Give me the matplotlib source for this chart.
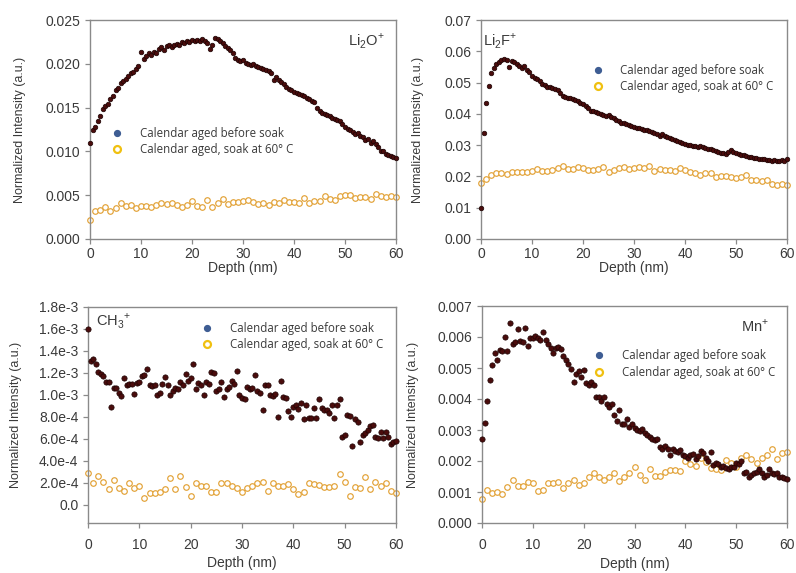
import numpy as np
import matplotlib
matplotlib.use("Agg")
import matplotlib.pyplot as plt
from matplotlib.lines import Line2D
from matplotlib.ticker import FixedLocator, FixedFormatter

# ---------------- data ----------------
depth_fine = np.arange(0, 60.01, 0.5)      # dense series (before soak)
depth_coarse = np.arange(0, 60.01, 1.0)    # soaked series

li2o_before = [
    0.0110, 0.0124, 0.0128, 0.0135, 0.0140, 0.0148, 0.0152, 0.0154, 0.0160, 0.0163,
    0.0170, 0.0172, 0.0178, 0.0180, 0.0183, 0.0186, 0.0189, 0.0191, 0.0194, 0.0198,
    0.0213, 0.0206, 0.0209, 0.0212, 0.0210, 0.0214, 0.0212, 0.0217, 0.0219, 0.0216,
    0.0220, 0.0221, 0.0219, 0.0222, 0.0223, 0.0221, 0.0225, 0.0224, 0.0226, 0.0225,
    0.0227, 0.0226, 0.0227, 0.0226, 0.0228, 0.0226, 0.0224, 0.0217, 0.0222, 0.0229,
    0.0228, 0.0226, 0.0224, 0.0220, 0.0218, 0.0216, 0.0212, 0.0207, 0.0204, 0.0203,
    0.0204, 0.0201, 0.0200, 0.0199, 0.0200, 0.0197, 0.0196, 0.0195, 0.0194, 0.0193,
    0.0192, 0.0189, 0.0182, 0.0185, 0.0182, 0.0179, 0.0177, 0.0174, 0.0171, 0.0170,
    0.0168, 0.0167, 0.0166, 0.0164, 0.0163, 0.0161, 0.0160, 0.0158, 0.0156, 0.0150,
    0.0146, 0.0144, 0.0143, 0.0141, 0.0140, 0.0138, 0.0137, 0.0136, 0.0135, 0.0131,
    0.0128, 0.0126, 0.0124, 0.0122, 0.0120, 0.0121, 0.0118, 0.0116, 0.0113, 0.0114,
    0.0110, 0.0112, 0.0108, 0.0105, 0.0101, 0.0100, 0.0097, 0.0096, 0.0095, 0.0094,
    0.0093,
]
li2o_soak = [
    0.0022, 0.0032, 0.0033, 0.0036, 0.0032, 0.0035, 0.0041, 0.0038, 0.0039, 0.0035,
    0.0038, 0.0038, 0.0037, 0.0039, 0.0041, 0.0040, 0.0041, 0.0039, 0.0037, 0.0039,
    0.0043, 0.0038, 0.0037, 0.0044, 0.0036, 0.0041, 0.0046, 0.0040, 0.0042, 0.0042,
    0.0043, 0.0044, 0.0042, 0.0040, 0.0041, 0.0039, 0.0042, 0.0041, 0.0044, 0.0042,
    0.0042, 0.0041, 0.0047, 0.0041, 0.0043, 0.0043, 0.0049, 0.0046, 0.0044, 0.0049,
    0.0050, 0.0050, 0.0047, 0.0048, 0.0048, 0.0046, 0.0051, 0.0049, 0.0048, 0.0049,
    0.0048,
]

li2f_before = [
    0.0098, 0.0340, 0.0435, 0.0488, 0.0530, 0.0545, 0.0560, 0.0567, 0.0572, 0.0575,
    0.0573, 0.0550, 0.0568, 0.0565, 0.0560, 0.0554, 0.0548, 0.0553, 0.0540, 0.0535,
    0.0522, 0.0515, 0.0510, 0.0504, 0.0497, 0.0492, 0.0487, 0.0485, 0.0482, 0.0480,
    0.0477, 0.0468, 0.0458, 0.0455, 0.0452, 0.0450, 0.0446, 0.0443, 0.0440, 0.0434,
    0.0430, 0.0425, 0.0418, 0.0410, 0.0408, 0.0406, 0.0403, 0.0400, 0.0396, 0.0394,
    0.0396, 0.0390, 0.0386, 0.0380, 0.0376, 0.0372, 0.0370, 0.0366, 0.0363, 0.0360,
    0.0357, 0.0356, 0.0354, 0.0351, 0.0350, 0.0347, 0.0345, 0.0342, 0.0338, 0.0335,
    0.0330, 0.0335, 0.0329, 0.0326, 0.0322, 0.0320, 0.0316, 0.0314, 0.0311, 0.0307,
    0.0303, 0.0301, 0.0300, 0.0297, 0.0296, 0.0294, 0.0297, 0.0293, 0.0290, 0.0288,
    0.0287, 0.0283, 0.0280, 0.0277, 0.0276, 0.0274, 0.0272, 0.0278, 0.0283, 0.0278,
    0.0274, 0.0271, 0.0270, 0.0267, 0.0265, 0.0263, 0.0262, 0.0259, 0.0258, 0.0257,
    0.0256, 0.0255, 0.0254, 0.0251, 0.0249, 0.0252, 0.0250, 0.0249, 0.0251, 0.0250,
    0.0255,
]
li2f_soak = [
    0.0180, 0.0193, 0.0205, 0.0210, 0.0212, 0.0208, 0.0213, 0.0215, 0.0213, 0.0213,
    0.0218, 0.0223, 0.0218, 0.0218, 0.0222, 0.0228, 0.0232, 0.0225, 0.0224, 0.0230,
    0.0228, 0.0222, 0.0220, 0.0224, 0.0230, 0.0215, 0.0220, 0.0228, 0.0230, 0.0225,
    0.0226, 0.0229, 0.0228, 0.0232, 0.0218, 0.0225, 0.0222, 0.0220, 0.0217, 0.0228,
    0.0222, 0.0215, 0.0210, 0.0206, 0.0210, 0.0212, 0.0198, 0.0200, 0.0200, 0.0198,
    0.0194, 0.0198, 0.0203, 0.0190, 0.0187, 0.0186, 0.0188, 0.0177, 0.0173, 0.0175,
    0.0174,
]

ch3_before = [
    1.60e-3, 1.31e-3, 1.33e-3, 1.28e-3, 1.21e-3, 1.19e-3, 1.17e-3, 1.12e-3, 1.12e-3, 0.89e-3,
    1.06e-3, 1.06e-3, 1.02e-3, 0.99e-3, 1.15e-3, 1.09e-3, 1.10e-3, 1.10e-3, 1.01e-3, 1.11e-3,
    1.12e-3, 1.17e-3, 1.18e-3, 1.24e-3, 1.09e-3, 1.08e-3, 1.09e-3, 1.00e-3, 1.02e-3, 1.10e-3,
    1.16e-3, 1.09e-3, 1.00e-3, 1.04e-3, 1.06e-3, 1.05e-3, 1.12e-3, 1.09e-3, 1.19e-3, 1.13e-3,
    1.15e-3, 1.28e-3, 1.05e-3, 1.11e-3, 1.09e-3, 1.00e-3, 1.12e-3, 1.10e-3, 1.21e-3, 1.20e-3,
    1.04e-3, 1.05e-3, 1.12e-3, 0.98e-3, 1.05e-3, 1.07e-3, 1.13e-3, 1.10e-3, 1.22e-3, 1.00e-3,
    0.97e-3, 0.96e-3, 1.07e-3, 1.05e-3, 1.06e-3, 1.18e-3, 1.04e-3, 1.02e-3, 0.86e-3, 1.09e-3,
    1.09e-3, 1.00e-3, 0.99e-3, 1.01e-3, 0.80e-3, 1.13e-3, 0.98e-3, 0.97e-3, 0.85e-3, 0.80e-3,
    0.89e-3, 0.91e-3, 0.87e-3, 0.93e-3, 0.78e-3, 0.91e-3, 0.79e-3, 0.79e-3, 0.88e-3, 0.79e-3,
    0.96e-3, 0.88e-3, 0.86e-3, 0.86e-3, 0.84e-3, 0.91e-3, 0.79e-3, 0.91e-3, 0.96e-3, 0.62e-3,
    0.64e-3, 0.82e-3, 0.81e-3, 0.54e-3, 0.78e-3, 0.75e-3, 0.57e-3, 0.64e-3, 0.65e-3, 0.68e-3,
    0.72e-3, 0.73e-3, 0.62e-3, 0.61e-3, 0.66e-3, 0.61e-3, 0.66e-3, 0.62e-3, 0.55e-3, 0.57e-3,
    0.58e-3,
]
ch3_soak = [
    0.29e-3, 0.20e-3, 0.26e-3, 0.21e-3, 0.14e-3, 0.23e-3, 0.15e-3, 0.13e-3, 0.20e-3, 0.15e-3,
    0.17e-3, 0.06e-3, 0.11e-3, 0.11e-3, 0.12e-3, 0.14e-3, 0.24e-3, 0.14e-3, 0.26e-3, 0.16e-3,
    0.08e-3, 0.20e-3, 0.17e-3, 0.17e-3, 0.12e-3, 0.12e-3, 0.20e-3, 0.20e-3, 0.17e-3, 0.15e-3,
    0.12e-3, 0.15e-3, 0.17e-3, 0.20e-3, 0.21e-3, 0.13e-3, 0.20e-3, 0.17e-3, 0.17e-3, 0.19e-3,
    0.14e-3, 0.10e-3, 0.12e-3, 0.20e-3, 0.19e-3, 0.18e-3, 0.16e-3, 0.16e-3, 0.17e-3, 0.28e-3,
    0.21e-3, 0.08e-3, 0.16e-3, 0.15e-3, 0.25e-3, 0.14e-3, 0.21e-3, 0.17e-3, 0.20e-3, 0.13e-3,
    0.11e-3,
]

mn_before = [
    0.00271, 0.00324, 0.00394, 0.00462, 0.00510, 0.00548, 0.00526, 0.00559, 0.00555, 0.00601,
    0.00555, 0.00644, 0.00578, 0.00584, 0.00625, 0.00586, 0.00585, 0.00628, 0.00570, 0.00598,
    0.00598, 0.00603, 0.00598, 0.00591, 0.00617, 0.00590, 0.00578, 0.00565, 0.00549, 0.00565,
    0.00568, 0.00560, 0.00540, 0.00526, 0.00513, 0.00497, 0.00455, 0.00482, 0.00490, 0.00470,
    0.00492, 0.00452, 0.00444, 0.00454, 0.00446, 0.00406, 0.00405, 0.00395, 0.00405, 0.00385,
    0.00375, 0.00385, 0.00350, 0.00330, 0.00365, 0.00320, 0.00318, 0.00335, 0.00310, 0.00320,
    0.00305, 0.00300, 0.00298, 0.00302, 0.00290, 0.00285, 0.00278, 0.00272, 0.00268, 0.00270,
    0.00245, 0.00240, 0.00247, 0.00240, 0.00218, 0.00240, 0.00232, 0.00228, 0.00235, 0.00220,
    0.00215, 0.00210, 0.00220, 0.00222, 0.00205, 0.00215, 0.00232, 0.00225, 0.00210, 0.00200,
    0.00230, 0.00188, 0.00195, 0.00190, 0.00182, 0.00185, 0.00178, 0.00175, 0.00182, 0.00180,
    0.00195, 0.00190, 0.00200, 0.00160, 0.00165, 0.00150, 0.00155, 0.00162, 0.00165, 0.00175,
    0.00160, 0.00150, 0.00155, 0.00175, 0.00160, 0.00158, 0.00160, 0.00150, 0.00148, 0.00145,
    0.00142,
]
mn_soak = [
    0.00077, 0.00105, 0.00098, 0.00100, 0.00095, 0.00115, 0.00138, 0.00120, 0.00118, 0.00132,
    0.00128, 0.00104, 0.00108, 0.00130, 0.00128, 0.00133, 0.00113, 0.00128, 0.00140, 0.00122,
    0.00128, 0.00148, 0.00162, 0.00150, 0.00138, 0.00148, 0.00160, 0.00135, 0.00150, 0.00160,
    0.00180, 0.00155, 0.00138, 0.00175, 0.00152, 0.00152, 0.00165, 0.00170, 0.00172, 0.00168,
    0.00200, 0.00190, 0.00185, 0.00210, 0.00198, 0.00178, 0.00175, 0.00172, 0.00202, 0.00195,
    0.00182, 0.00210, 0.00220, 0.00205, 0.00195, 0.00210, 0.00220, 0.00238, 0.00208, 0.00225,
    0.00228,
]

legend_labels = ["Calendar aged before soak", "Calendar aged, soak at 60° C"]
x_ticks = [0, 10, 20, 30, 40, 50, 60]
ch3_ticks = [0.0, 0.2e-3, 0.4e-3, 0.6e-3, 0.8e-3, 1.0e-3, 1.2e-3, 1.4e-3, 1.6e-3, 1.8e-3]
ch3_tick_labels = ["0.0", "2.0e-4", "4.0e-4", "6.0e-4", "8.0e-4", "1.0e-3",
                   "1.2e-3", "1.4e-3", "1.6e-3", "1.8e-3"]

# ---------------- style ----------------
plt.rcParams["font.family"] = ["Liberation Sans", "DejaVu Sans"]
TXT = "#3a3a3a"
SPINE = "#8a8a8a"
DARK_FACE = "#4a0c0c"
DARK_EDGE = "#1c0303"
ORANGE = "#e2a236"

fig = plt.figure(figsize=(7.96, 5.73), dpi=100)

W, H = 796.0, 573.0
def axes_px(left, top, right, bottom):
    return fig.add_axes([left / W, 1 - bottom / H, (right - left) / W, (bottom - top) / H])

panels = [
    dict(box=(90, 20, 396, 239), before=li2o_before, soak=li2o_soak,
         ylim=(0, 0.025), yticks=[0, 0.005, 0.010, 0.015, 0.020, 0.025], fmt="{:.3f}",
         label=r"Li$_\mathregular{2}$O$^\mathregular{+}$", lab_xy=(0.962, 0.905), lab_ha="right",
         leg=(0.07, 0.513), ylab_x=-0.209, xlab_y=-0.1, ms=3.3, xpad=2.5),
    dict(box=(481, 20, 787, 239), before=li2f_before, soak=li2f_soak,
         ylim=(0, 0.07), yticks=[0, 0.01, 0.02, 0.03, 0.04, 0.05, 0.06, 0.07], fmt="{:.2f}",
         label=r"Li$_\mathregular{2}$F$^\mathregular{+}$", lab_xy=(0.008, 0.905), lab_ha="left",
         leg=(0.363, 0.80), ylab_x=-0.186, xlab_y=-0.1, ms=3.3, xpad=2.5),
    dict(box=(88, 307, 396, 523), before=ch3_before, soak=ch3_soak,
         ylim=(-0.165e-3, 1.8e-3), yticks=ch3_ticks, fmt=None,
         label=r"CH$_\mathregular{3}$$^\mathregular{+}$", lab_xy=(0.026, 0.935), lab_ha="left",
         leg=(0.368, 0.93), ylab_x=-0.214, xlab_y=-0.155, ms=3.8, xpad=7),
    dict(box=(482, 306, 787, 523), before=mn_before, soak=mn_soak,
         ylim=(0, 0.007), yticks=[0, 0.001, 0.002, 0.003, 0.004, 0.005, 0.006, 0.007], fmt="{:.3f}",
         label=r"Mn$^\mathregular{+}$", lab_xy=(0.94, 0.908), lab_ha="right",
         leg=(0.365, 0.80), ylab_x=-0.207, xlab_y=-0.155, ms=3.8, xpad=7),
]

handles = [
    Line2D([], [], linestyle="none", marker="o", markersize=4.2,
           markerfacecolor="#3e5d93", markeredgecolor="#3e5d93"),
    Line2D([], [], linestyle="none", marker="o", markersize=5.0,
           markerfacecolor="white", markeredgecolor="#f0c010", markeredgewidth=1.6),
]

for p in panels:
    ax = axes_px(*p["box"])
    ax.plot(depth_coarse, p["soak"], linestyle="none", marker="o", markersize=4.0,
            markerfacecolor="white", markeredgecolor=ORANGE, markeredgewidth=0.85,
            clip_on=False, zorder=2)
    ax.plot(depth_fine, p["before"], linestyle="none", marker="o", markersize=p["ms"],
            markerfacecolor=DARK_FACE, markeredgecolor=DARK_EDGE, markeredgewidth=0.5,
            clip_on=False, zorder=3)
    ax.set_xlim(0, 60)
    ax.set_ylim(*p["ylim"])
    ax.xaxis.set_major_locator(FixedLocator(x_ticks))
    ax.yaxis.set_major_locator(FixedLocator(p["yticks"]))
    if p["fmt"] is None:
        ax.yaxis.set_major_formatter(FixedFormatter(ch3_tick_labels))
    else:
        ax.set_yticklabels([p["fmt"].format(v) for v in p["yticks"]])
    for s in ax.spines.values():
        s.set_color(SPINE)
        s.set_linewidth(1.0)
    ax.tick_params(axis="both", direction="out", length=3.5, width=0.9, color=SPINE,
                   labelsize=10, labelcolor=TXT)
    ax.tick_params(axis="x", pad=p["xpad"])
    ax.set_ylabel("Normalized Intensity (a.u.)", fontsize=9, color=TXT)
    ax.yaxis.set_label_coords(p["ylab_x"], 0.5)
    ax.set_xlabel("Depth (nm)", fontsize=10, color=TXT)
    ax.xaxis.set_label_coords(0.5, p["xlab_y"])
    ax.text(p["lab_xy"][0], p["lab_xy"][1], p["label"], transform=ax.transAxes,
            ha=p["lab_ha"], va="center", fontsize=10.5, color=TXT)
    ax.legend(handles, legend_labels, loc="upper left", bbox_to_anchor=p["leg"],
              frameon=False, borderpad=0, borderaxespad=0, handlelength=1.0,
              handletextpad=1.45, labelspacing=0.28,
              prop=dict(family="Open Sans", size=8.3), labelcolor=TXT)

fig.savefig("out.png", dpi=100)
